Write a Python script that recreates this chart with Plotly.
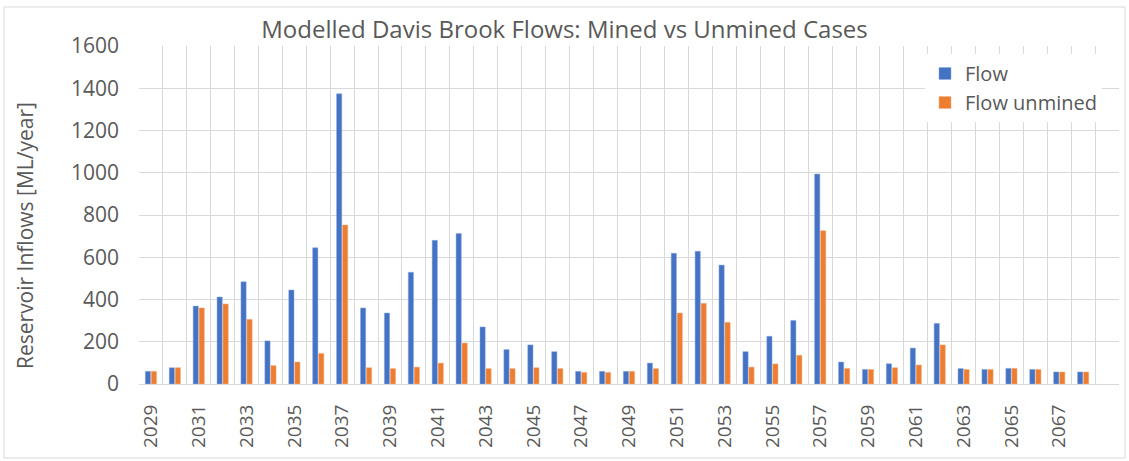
import plotly.graph_objects as go

years = list(range(2029, 2069))
flow = [60, 77, 369, 412, 484, 204, 445, 645, 1374, 360,
        336, 529, 680, 713, 270, 163, 185, 153, 60, 60,
        60, 99, 619, 628, 563, 153, 226, 301, 994, 104,
        69, 96, 170, 287, 73, 69, 74, 69, 57, 57]
flow_unmined = [60, 77, 360, 379, 306, 87, 104, 145, 753, 77,
                73, 80, 99, 194, 73, 73, 77, 73, 55, 55,
                60, 73, 336, 382, 292, 80, 95, 136, 726, 74,
                69, 77, 90, 185, 69, 69, 74, 69, 57, 57]
tick_years = list(range(2029, 2068, 2))

W, H = 1129, 461
L, R, T, B = 139, 1119, 46, 384

FONT = "Open Sans"
GREY = "#595959"
GRID = "#D9D9D9"

fig = go.Figure()
fig.add_trace(go.Bar(x=years, y=flow, name="Flow", marker_color="#4472C4",
                     marker_line=dict(width=0.5, color="#8FAADC")))
fig.add_trace(go.Bar(x=years, y=flow_unmined, name="Flow unmined", marker_color="#ED7D31",
                     marker_line=dict(width=0.5, color="#F4B183")))

pw, ph = R - L, B - T
fig.add_shape(type="rect", xref="paper", yref="paper",
              x0=(4 - L) / pw, x1=(1125 - L) / pw,
              y0=(B - 458) / ph, y1=(B - 7) / ph,
              line=dict(color=GRID, width=1), layer="below")

fig.add_annotation(text="Reservoir Inflows [ML/year]", textangle=-90,
                   xref="paper", yref="paper", x=(25 - L) / pw, y=(B - 236) / ph,
                   xanchor="center", yanchor="middle", showarrow=False,
                   font=dict(size=21, color=GREY, family=FONT))

fig.update_layout(
    width=W, height=H,
    margin=dict(l=L, r=W - R, t=T, b=H - B, autoexpand=False),
    paper_bgcolor="white", plot_bgcolor="white",
    barmode="group", bargap=0.5, bargroupgap=0.12,
    font=dict(family=FONT, color=GREY),
    title=dict(text="Modelled Davis Brook Flows: Mined vs Unmined Cases",
               x=0.5, xref="container", xanchor="center",
               y=1 - 30 / H, yref="container", yanchor="middle",
               font=dict(size=24, color=GREY, family=FONT)),
    legend=dict(x=(925 - L) / pw, y=(B - 54) / ph, xanchor="left", yanchor="top",
                bgcolor="white", font=dict(size=20, color=GREY, family=FONT),
                tracegroupgap=0, itemwidth=30),
    xaxis=dict(range=[2028.5, 2069.5], tickmode="array", tickvals=tick_years,
               ticktext=[str(y) for y in tick_years], tickangle=-90,
               tickfont=dict(size=19, color=GREY), showgrid=False, automargin=False,
               showline=True, linecolor=GRID, linewidth=1, mirror=False,
               ticks="", ticklabelstandoff=12, zeroline=False,
               minor=dict(tickvals=[2028.5 + i for i in range(42)], showgrid=True,
                          gridcolor=GRID, gridwidth=1.3, ticks="")),
    yaxis=dict(range=[0, 1600], dtick=200, showgrid=True, gridcolor=GRID, gridwidth=1.3,
               tickfont=dict(size=21, color=GREY), ticks="", ticklabelstandoff=19,
               zeroline=False, automargin=False),
)

fig.write_html("out.html", config={"displayModeBar": False},
               post_script="document.body.style.margin='0';")
